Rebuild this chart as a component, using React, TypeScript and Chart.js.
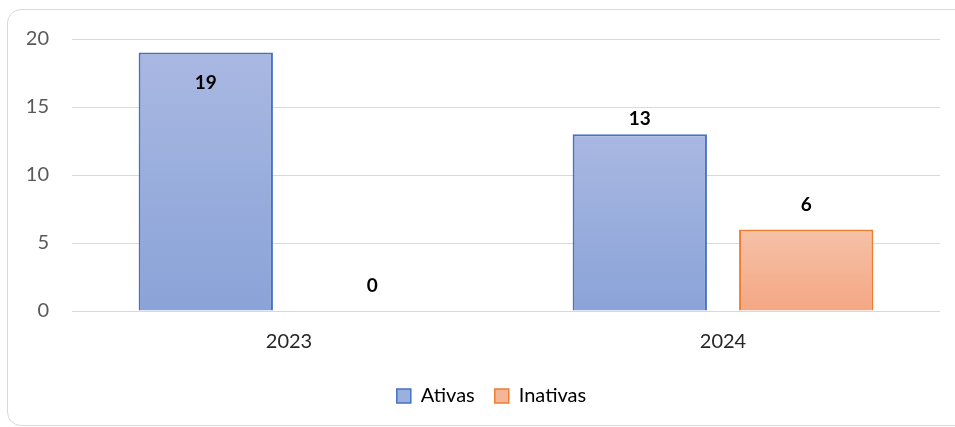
import React, { useEffect, useRef } from "react";
import { Chart, registerables } from "chart.js";

Chart.register(...registerables);

const categories = ["2023", "2024"];
const ativas = [19, 13];
const inativas = [0, 6];
const yTicks = [0, 5, 10, 15, 20];

const FONT = "Lato, 'Open Sans', sans-serif";

function barGradient(ctx: any, top: string, bottom: string) {
  const chart = ctx.chart;
  const { chartArea, scales } = chart;
  if (!chartArea || !scales || !scales.y || ctx.type !== "data") return top;
  const v = ctx.raw as number;
  const yTop = scales.y.getPixelForValue(v);
  const yBot = scales.y.getPixelForValue(0);
  if (!isFinite(yTop) || !isFinite(yBot) || Math.abs(yBot - yTop) < 1) return top;
  const g = chart.ctx.createLinearGradient(0, yTop, 0, yBot);
  g.addColorStop(0, top);
  g.addColorStop(1, bottom);
  return g;
}

const labelPlugin = {
  id: "valueLabels",
  afterLayout(chart: any) {
    if (chart.legend) {
      chart.legend.left += 8;
      chart.legend.right += 8;
    }
  },
  afterDatasetsDraw(chart: any) {
    const { ctx, chartArea } = chart;
    ctx.save();
    ctx.font = `bold 19px ${FONT}`;
    ctx.fillStyle = "#000000";
    ctx.textAlign = "center";
    ctx.textBaseline = "middle";
    chart.data.datasets.forEach((ds: any, di: number) => {
      const meta = chart.getDatasetMeta(di);
      const off = di === 0 ? 15 : 25;
      meta.data.forEach((bar: any, i: number) => {
        const v = ds.data[i];
        let y = bar.y - off;
        if (y < chartArea.top + 4) y = bar.y + 30;
        ctx.fillText(String(v), bar.x, y);
      });
    });
    ctx.restore();
  },
};

export default function App() {
  const ref = useRef<HTMLCanvasElement>(null);
  useEffect(() => {
    if (!ref.current) return;
    const chart = new Chart(ref.current, {
      type: "bar",
      data: {
        labels: categories,
        datasets: [
          {
            label: "Ativas",
            data: ativas,
            backgroundColor: (c: any) => barGradient(c, "#a9b8e2", "#8aa3d8"),
            borderColor: "#4472c4",
            borderWidth: (c: any) => (c.raw === 0 ? 0 : 2),
            categoryPercentage: 0.767,
            barPercentage: 0.807,
          },
          {
            label: "Inativas",
            data: inativas,
            backgroundColor: (c: any) => barGradient(c, "#f6c1a7", "#f4a784"),
            borderColor: "#ed7d31",
            borderWidth: (c: any) => (c.raw === 0 ? 0 : 2),
            categoryPercentage: 0.767,
            barPercentage: 0.807,
          },
        ],
      },
      options: {
        animation: false,
        responsive: false,
        maintainAspectRatio: false,
        layout: { padding: { left: 27, right: 15, top: 39, bottom: 11 } },
        plugins: {
          tooltip: { enabled: false },
          legend: {
            display: true,
            position: "bottom",
            labels: {
              boxWidth: 14,
              boxHeight: 14,
              padding: 20,
              color: "#1a1a1a",
              font: { family: FONT, size: 20 },
              generateLabels: (ch: any) =>
                ch.data.datasets.map((ds: any, i: number) => ({
                  text: ds.label,
                  fillStyle: i === 0 ? "#9cb0de" : "#f5b597",
                  strokeStyle: ds.borderColor,
                  lineWidth: 1.5,
                  datasetIndex: i,
                  hidden: false,
                })),
            },
          },
        },
        scales: {
          x: {
            grid: { display: false, drawTicks: false },
            border: { display: false },
            ticks: {
              color: "#262626",
              font: { family: FONT, size: 20 },
              padding: 19,
            },
            afterFit: (s: any) => {
              s.height = 55;
            },
          },
          y: {
            min: 0,
            max: 20,
            afterBuildTicks: (s: any) => {
              s.ticks = yTicks.map((v) => ({ value: v }));
            },
            grid: { color: "#d9d9d9", lineWidth: 1, drawTicks: false },
            border: { display: false },
            ticks: {
              color: "#595959",
              font: { family: FONT, size: 20 },
              padding: 23,
            },
            afterFit: (s: any) => {
              s.width = 45;
            },
          },
        },
      },
      plugins: [labelPlugin],
    });
    return () => chart.destroy();
  }, []);

  return (
    <div
      style={{
        position: "fixed",
        left: 0,
        top: 0,
        width: 955,
        height: 427,
        overflow: "hidden",
        background: "#ffffff",
      }}
    >
      <div
        style={{
          position: "absolute",
          left: 7,
          top: 9,
          width: 962,
          height: 415,
          border: "1px solid #d9d9d9",
          borderRadius: 14,
        }}
      />
      <canvas
        ref={ref}
        width={955}
        height={427}
        style={{ position: "absolute", left: 0, top: 0, width: 955, height: 427 }}
      />
    </div>
  );
}
